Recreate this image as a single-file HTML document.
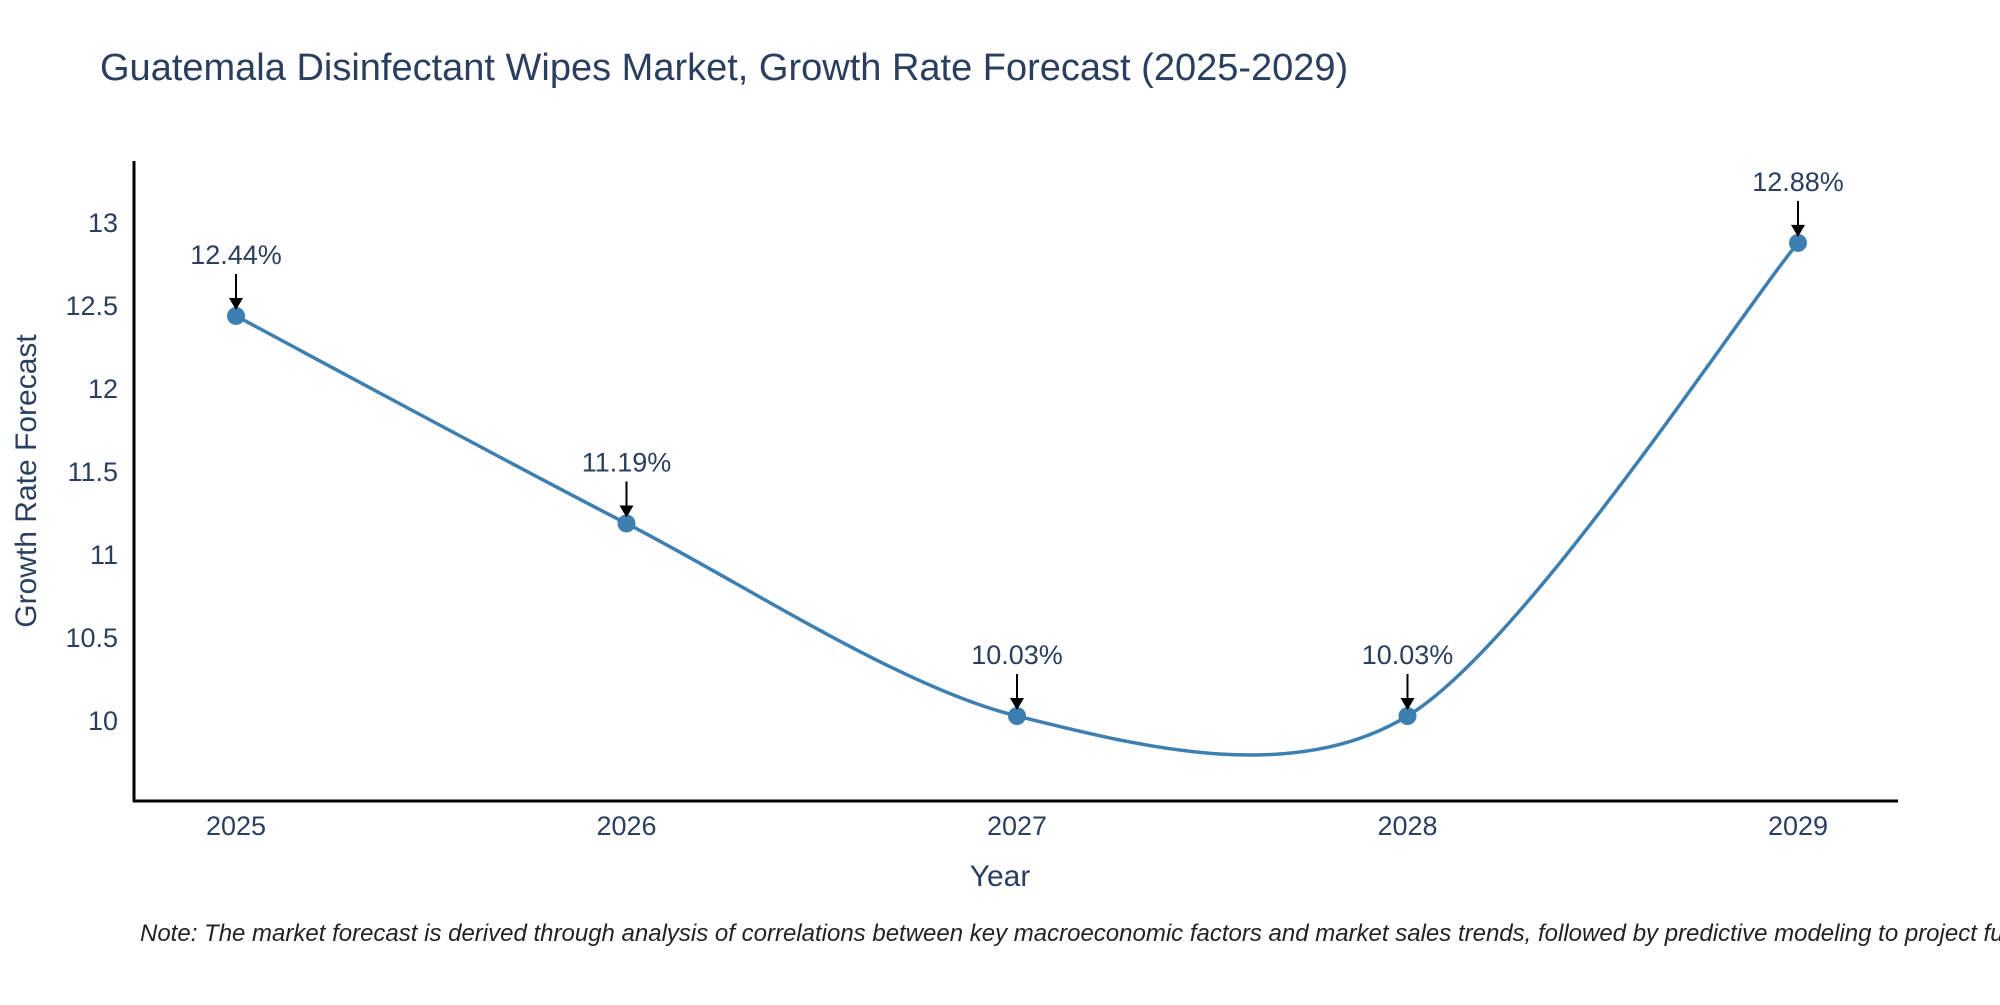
<!DOCTYPE html>
<html><head><meta charset="utf-8"><style>
body{margin:0;background:#fff;}
svg text{font-family:"Liberation Sans",sans-serif;fill:#2a3f5f;}
</style></head><body>
<svg width="2000" height="1000" xmlns="http://www.w3.org/2000/svg">
<text x="100" y="80" font-size="38">Guatemala Disinfectant Wipes Market, Growth Rate Forecast (2025-2029)</text>
<g id="yticks"></g><g id="xticks"></g>
<line x1="134" y1="161" x2="134" y2="802" stroke="#000" stroke-width="3"/>
<line x1="133" y1="801" x2="1898" y2="801" stroke="#000" stroke-width="3"/>
<path id="line" fill="none" stroke="#3d7fb0" stroke-width="3.5"/>
<g id="pts"></g>
<text x="1000" y="886" font-size="30" text-anchor="middle">Year</text>
<text transform="translate(36,481) rotate(-90)" font-size="30" text-anchor="middle">Growth Rate Forecast</text>
<text x="140" y="941" font-size="24" font-style="italic" style="fill:#222">Note: The market forecast is derived through analysis of correlations between key macroeconomic factors and market sales trends, followed by predictive modeling to project future sales.</text>
</svg>
<script>
const years=["2025","2026","2027","2028","2029"];
const values=[12.44,11.19,10.03,10.03,12.88];
const yTicks=[10,10.5,11,11.5,12,12.5,13];
const NS="http://www.w3.org/2000/svg";
const xs=i=>236+i*390.5;
const ys=v=>721-(v-10)*166;
function mk(tag,attrs,parent){const e=document.createElementNS(NS,tag);for(const k in attrs)e.setAttribute(k,attrs[k]);document.getElementById(parent).appendChild(e);return e;}
yTicks.forEach(t=>{const e=mk('text',{x:118,y:ys(t)+9,'font-size':27,'text-anchor':'end'},'yticks');e.textContent=String(t);

});
years.forEach((y,i)=>{const e=mk('text',{x:xs(i),y:835,'font-size':27,'text-anchor':'middle'},'xticks');e.textContent=y;

});
const P=values.map((v,i)=>[xs(i),ys(v)]);
let d='M'+P[0][0]+','+P[0][1];
const s=0.15;
for(let i=0;i<P.length-1;i++){
 const p0=P[Math.max(i-1,0)],p1=P[i],p2=P[i+1],p3=P[Math.min(i+2,P.length-1)];
 const c1=[p1[0]+(p2[0]-p0[0])*s,p1[1]+(p2[1]-p0[1])*s];
 const c2=[p2[0]-(p3[0]-p1[0])*s,p2[1]-(p3[1]-p1[1])*s];
 d+=` C${c1[0]},${c1[1]} ${c2[0]},${c2[1]} ${p2[0]},${p2[1]}`;
}
document.getElementById('line').setAttribute('d',d);
P.forEach((p,i)=>{
 const c=mk('circle',{cx:p[0],cy:p[1],r:9,fill:'#3d7fb0'},'pts');
 
 
 const l=mk('line',{x1:p[0],y1:p[1]-42,x2:p[0],y2:p[1]-16,stroke:'#000','stroke-width':2},'pts');
 
 
 const a=mk('polygon',{points:`${p[0]-7},${p[1]-18} ${p[0]+7},${p[1]-18} ${p[0]},${p[1]-6}`,fill:'#000'},'pts');
 
 
 const t=mk('text',{x:p[0],y:p[1]-52,'font-size':27,'text-anchor':'middle'},'pts');
 t.textContent=values[i].toFixed(2)+'%';
 
 
});
</script>
</body></html>
